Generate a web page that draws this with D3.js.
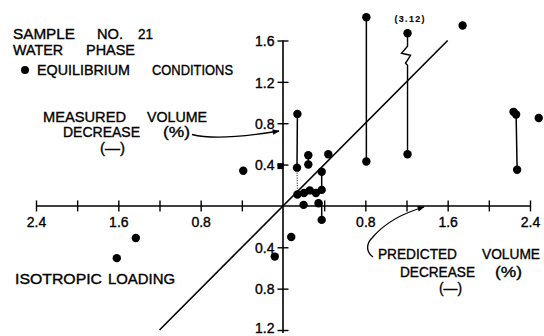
<!DOCTYPE html>
<html><head><meta charset="utf-8">
<script src="https://cdn.jsdelivr.net/npm/d3@7"></script>
<style>
html,body{margin:0;padding:0;background:#fff;}
svg{display:block;}
text{font-family:"Liberation Sans",Arial,sans-serif;fill:#000;stroke:#000;stroke-width:0.35px;}
</style></head>
<body>
<div id="chart"></div>
<script>
// ---- data ----
const xTickValues = [-2.4,-2.0,-1.6,-1.2,-0.8,-0.4,0.4,0.8,1.2,1.6,2.0,2.4];
const xTickLabels = {"-2.4":"2.4","-1.6":"1.6","-0.8":"0.8","0.8":"0.8","1.6":"1.6","2.4":"2.4"};
const yTickValues = [1.6,1.2,0.8,0.4,-0.4,-0.8,-1.2];
const yTickLabels = ["1.6","1.2","0.8","0.4","0.4","0.8","1.2"];
// predicted (x) vs measured (y) volume decrease, %
const pointsX = [0.81,0.81,1.21,1.21,1.745,2.24,2.265,2.275,2.485,0.14,0.136,0.246,0.246,0.44,0.376,0.14,0.204,0.26,0.32,0.376,0.20,0.345,0.376,-0.386,-1.43,-1.615,0.08,-0.08];
const pointsY = [1.825,0.43,1.67,0.50,1.745,0.91,0.885,0.35,0.85,0.89,0.37,0.49,0.40,0.50,0.33,0.11,0.125,0.15,0.125,0.155,0.01,0.026,-0.135,0.34,-0.31,-0.505,-0.30,-0.49];
const axisDot = [-0.025, 0.385];
// vertical connectors [x1,y1,x2,y2]
const connectors = [[0.81,0.43,0.81,1.825],[2.265,0.885,2.275,0.35],[0.14,0.89,0.136,0.37],[0.246,0.49,0.246,0.40],[0.376,0.33,0.376,0.155],[0.376,0.04,0.376,-0.135]];
const dottedConnector = [0.136,0.37,0.14,0.11];
const brokenConnector = [1.21,1.67,1.21,0.50];
const brokenLabel = "(3.12)";
const lineOfEquality = [-1.2,1.6];

// ---- chart ----
const W=544,H=336;
const svg=d3.select("#chart").append("svg").attr("width",W).attr("height",H);
svg.append("rect").attr("width",W).attr("height",H).attr("fill","#fff");
const x=d3.scaleLinear().domain([-2.4,2.4]).range([36,530]);
const y=d3.scaleLinear().domain([-1.2,1.6]).range([330,40.5]);
const X0=x(0),Y0=y(0);

// axes lines
svg.append("line").attr("x1",x(-2.4)).attr("x2",x(2.4)).attr("y1",Y0).attr("y2",Y0).attr("stroke","#000").attr("stroke-width",1.6);
svg.append("line").attr("x1",X0).attr("x2",X0).attr("y1",y(1.6)).attr("y2",y(-1.23)).attr("stroke","#000").attr("stroke-width",1.6);

// x ticks
const xAxis=d3.axisBottom(x).tickValues(xTickValues).tickSize(0).tickFormat(d=>xTickLabels[String(d)]||"");
const gx=svg.append("g").attr("transform",`translate(0,${Y0})`).call(xAxis);
gx.select(".domain").remove();
gx.selectAll(".tick").append("line").attr("y1",-5.5).attr("y2",5.5).attr("stroke","#000").attr("stroke-width",1.4);
gx.selectAll(".tick text").attr("y",0).attr("dy",null).attr("transform","translate(0,21.5)")
  .style("font-size","14px").style("font-family","Liberation Sans, Arial, sans-serif").attr("fill","#000");

// y ticks
const yAxis=d3.axisLeft(y).tickValues(yTickValues).tickSize(0).tickFormat((d,i)=>yTickLabels[i]);
const gy=svg.append("g").attr("transform",`translate(${X0},0)`).call(yAxis);
gy.select(".domain").remove();
gy.selectAll(".tick").append("line").attr("x1",-5.5).attr("x2",5.5).attr("stroke","#000").attr("stroke-width",1.4);
gy.selectAll(".tick text").attr("x",-8.5).attr("dy",null)
  .attr("transform",d=>d<-1.1?"translate(0,2.5)":"translate(0,5.2)")
  .style("font-size","14px").style("font-family","Liberation Sans, Arial, sans-serif").attr("fill","#000");

// line of equality
svg.append("line").attr("x1",x(lineOfEquality[0])).attr("y1",y(lineOfEquality[0]))
  .attr("x2",x(lineOfEquality[1])).attr("y2",y(lineOfEquality[1])).attr("stroke","#000").attr("stroke-width",1.6);

// connectors
svg.selectAll("line.conn").data(connectors).enter().append("line").attr("class","conn")
  .attr("x1",d=>x(d[0])).attr("y1",d=>y(d[1])).attr("x2",d=>x(d[2])).attr("y2",d=>y(d[3]))
  .attr("stroke","#000").attr("stroke-width",1.5);
svg.append("line").attr("x1",x(dottedConnector[0])).attr("y1",y(dottedConnector[1]))
  .attr("x2",x(dottedConnector[2])).attr("y2",y(dottedConnector[3]))
  .attr("stroke","#000").attr("stroke-width",1).attr("stroke-dasharray","1,1.5");
// broken connector with zigzag
{
  const bx=x(brokenConnector[0]), yt=y(brokenConnector[1]), yb=y(brokenConnector[3]);
  const p=d3.path();
  p.moveTo(bx,yt); p.lineTo(bx,yt+13); p.lineTo(bx-6,yt+20); p.lineTo(bx+3,yt+22);
  p.lineTo(bx-2,yt+30); p.lineTo(bx,yt+32); p.lineTo(bx,yb);
  svg.append("path").attr("d",p.toString()).attr("fill","none").attr("stroke","#000").attr("stroke-width",1.4);
  svg.append("text").attr("x",bx+2).attr("y",yt-11).attr("text-anchor","middle")
    .attr("textLength",30).attr("lengthAdjust","spacing")
    .style("font-size","9px").style("font-weight","bold").style("stroke-width","0.1px").text(brokenLabel);
}

// points
svg.selectAll("circle.pt").data(pointsX.map((v,i)=>[v,pointsY[i]])).enter().append("circle").attr("class","pt")
  .attr("cx",d=>x(d[0])).attr("cy",d=>y(d[1])).attr("r",4.2).attr("fill","#000");
svg.append("rect").attr("x",x(axisDot[0])-3).attr("y",y(axisDot[1])-3).attr("width",6).attr("height",6).attr("fill","#000");

// text labels (word positioned)
function words(list,baseline,size){
  list.forEach(w=>{
    svg.append("text").attr("x",w[1]).attr("y",baseline).attr("textLength",w[2]-w[1]).attr("lengthAdjust","spacingAndGlyphs")
      .style("font-size",(size||14)+"px").text(w[0]);
  });
}
words([["SAMPLE",13,75],["NO.",97,123],["21",138,153]],38.5);
words([["WATER",13,63],["PHASE",86,135]],55);
svg.append("circle").attr("cx",25).attr("cy",70).attr("r",4).attr("fill","#000");
words([["EQUILIBRIUM",37,130],["CONDITIONS",152,233]],75);
words([["MEASURED",43,126],["VOLUME",147,207]],122);
words([["DECREASE",63,140],["(%)",163,190]],137);
words([["(—)",100,125]],152.5);
words([["ISOTROPIC",15,102],["LOADING",108,175]],283.5);
words([["PREDICTED",378,457],["VOLUME",482,540]],258.5);
words([["DECREASE",400,475],["(%)",495,522]],276.5);
words([["(—)",439,462]],292.5);

// arrows
const defs=svg.append("defs");
defs.append("marker").attr("id","ah").attr("viewBox","0 0 10 10").attr("refX",9).attr("refY",5)
  .attr("markerWidth",9).attr("markerHeight",7).attr("markerUnits","userSpaceOnUse").attr("orient","auto")
  .append("path").attr("d","M0,1 L10,5 L0,9 Z").attr("fill","#000");
svg.append("path").attr("d","M192,134.5 C210,139 240,137.5 279,131")
  .attr("fill","none").attr("stroke","#000").attr("stroke-width",1.3).attr("marker-end","url(#ah)");
svg.append("path").attr("d","M373,257 C366,252 366,244 372,238 C382,226 400,214 424,207")
  .attr("fill","none").attr("stroke","#000").attr("stroke-width",1.3).attr("marker-end","url(#ah)");
</script>
</body></html>
